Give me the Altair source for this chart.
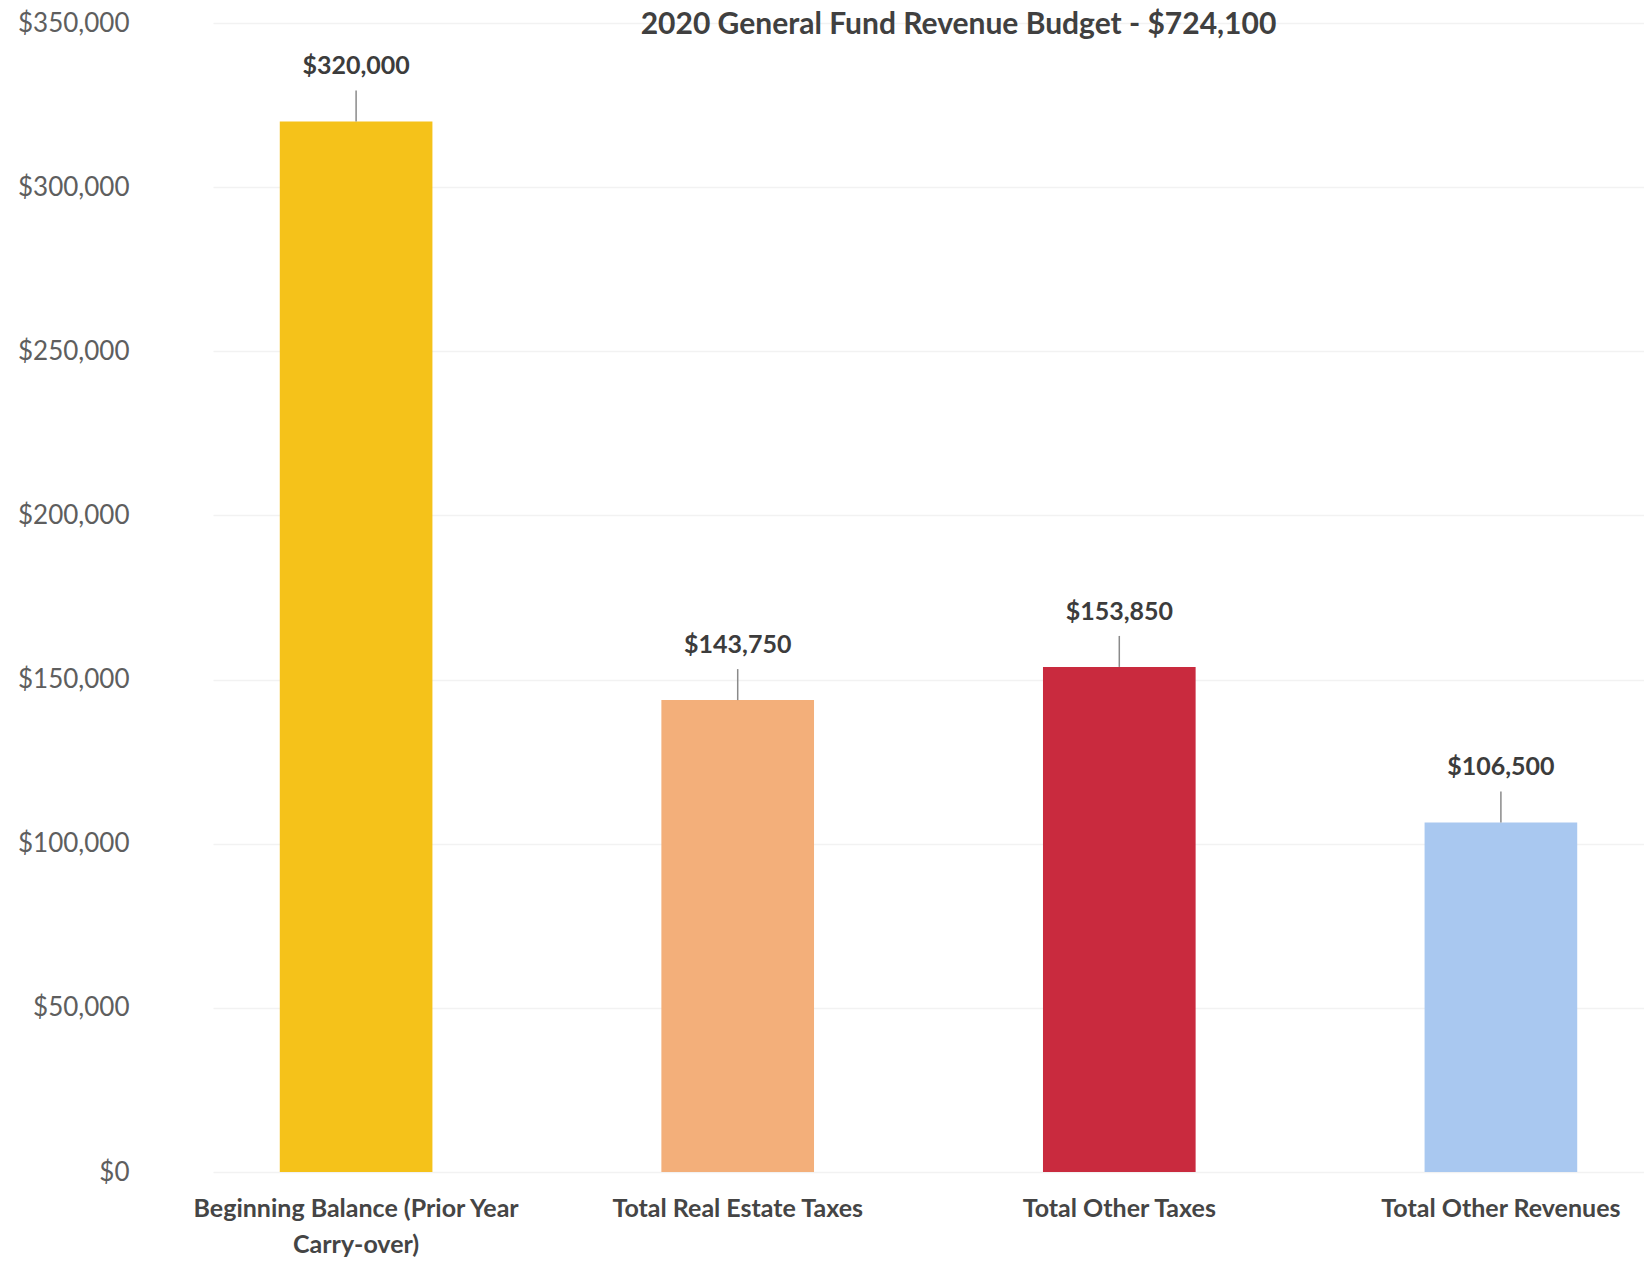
import altair as alt
import pandas as pd

categories = [
    "Beginning Balance (Prior Year Carry-over)",
    "Total Real Estate Taxes",
    "Total Other Taxes",
    "Total Other Revenues",
]
values = [320000, 143750, 153850, 106500]
colors = ["#F5C21A", "#F3AF7A", "#C92A3E", "#A9C8F0"]
title_text = "2020 General Fund Revenue Budget - $724,100"

df = pd.DataFrame({"category": categories, "value": values, "color": colors})
df["label"] = df["value"].map(lambda v: "${:,.0f}".format(v))

FONT = "Lato"

x = alt.X(
    "category:N",
    sort=categories,
    title=None,
    scale=alt.Scale(paddingInner=0.6, paddingOuter=0.175),
    axis=alt.Axis(
        labelAngle=0,
        labelFont=FONT,
        labelFontSize=25,
        labelFontWeight="bold",
        labelColor="#454545",
        labelPadding=24,
        labelLineHeight=36,
        labelLimit=0,
        labelExpr="datum.value == 'Beginning Balance (Prior Year Carry-over)' ? ['Beginning Balance (Prior Year', 'Carry-over)'] : datum.value",
        domain=False,
        ticks=False,
        grid=False,
    ),
)
y = alt.Y(
    "value:Q",
    title=None,
    scale=alt.Scale(domain=[0, 350000], nice=False),
    axis=alt.Axis(
        values=[0, 50000, 100000, 150000, 200000, 250000, 300000, 350000],
        format="$,.0f",
        labelFont=FONT,
        labelFontSize=26,
        labelColor="#5e5e5e",
        labelPadding=84,
        domain=False,
        ticks=False,
        gridColor="#f2f2f2",
        gridWidth=1.5,
    ),
)

bars = alt.Chart(df).mark_bar().encode(
    x=x, y=y, color=alt.Color("color:N", scale=None, legend=None)
)
leaders = alt.Chart(df).mark_rule(color="#8a8a8a", strokeWidth=1.5, y2Offset=-31).encode(
    x=alt.X("category:N", sort=categories),
    y="value:Q",
    y2="value:Q",
)
labels = alt.Chart(df).mark_text(
    font=FONT, fontSize=25, fontWeight="bold", color="#3c3c3c", dy=-55, baseline="middle"
).encode(x=alt.X("category:N", sort=categories), y="value:Q", text="label:N")

chart = (
    alt.layer(bars, leaders, labels)
    .properties(
        width=1431,
        height=1149,
        autosize=alt.AutoSizeParams(type="none"),
        padding={"left": 213, "top": 23, "right": 0, "bottom": 89},
        title=alt.TitleParams(
            title_text,
            font=FONT,
            fontSize=30,
            fontWeight="bold",
            color="#404040",
            anchor="middle",
            dx=30,
            offset=-30,
        ),
    )
    .configure(background="white")
    .configure_view(stroke=None)
)

chart.save("out.html", embed_options={"renderer": "svg", "actions": False})
